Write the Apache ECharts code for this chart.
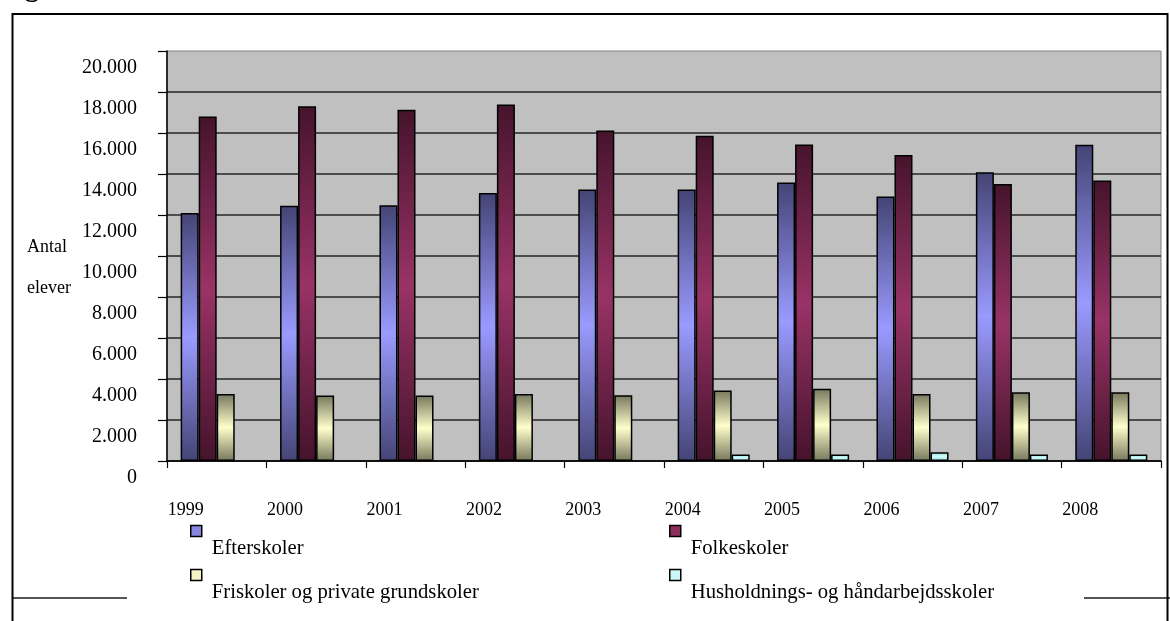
<!DOCTYPE html>
<html>
<head>
<meta charset="utf-8">
<script src="https://cdn.jsdelivr.net/npm/echarts@6/dist/echarts.min.js"></script>
<style>
  html, body { margin: 0; padding: 0; background: #ffffff; }
  #chart { width: 1170px; height: 621px; }
</style>
</head>
<body>
<div id="chart"></div>
<script>
// Antal elever pr. skoleform, 1999-2008
const years = ['1999', '2000', '2001', '2002', '2003', '2004', '2005', '2006', '2007', '2008'];
const efterskoler = [12100, 12450, 12480, 13070, 13240, 13240, 13590, 12900, 14090, 15430];
const folkeskoler = [16800, 17300, 17130, 17390, 16120, 15860, 15440, 14930, 13510, 13680];
const friskoler = [3270, 3190, 3190, 3270, 3210, 3440, 3530, 3270, 3350, 3350];
const husholdning = [null, null, null, null, null, 320, 320, 430, 320, 320];
const seriesNames = ['Efterskoler', 'Folkeskoler', 'Friskoler og private grundskoler', 'Husholdnings- og håndarbejdsskoler'];
const yTicks = [0, 2000, 4000, 6000, 8000, 10000, 12000, 14000, 16000, 18000, 20000];

const FONT = '"Liberation Serif", "DejaVu Serif", serif';

// vertical fill that is dark at both ends and light in the middle
function mirrored(dark, light) {
  return new echarts.graphic.LinearGradient(0, 0, 0, 1, [
    { offset: 0, color: dark },
    { offset: 0.5, color: light },
    { offset: 1, color: dark }
  ]);
}

const fills = [
  mirrored('#444475', '#9a9aff'),
  mirrored('#45132c', '#993366'),
  mirrored('#77775d', '#ffffcc'),
  mirrored('#9fd6d6', '#ccffff')
];
const swatches = ['#8787e0', '#8f2d5c', '#f4f4c4', '#c8f8f8'];
const values = [efterskoler, folkeskoler, friskoler, husholdning];

// each legend entry: swatch on one line, its name on the line below
const legendSpots = [
  { left: 190, top: 495 },
  { left: 669, top: 495 },
  { left: 190, top: 539 },
  { left: 669, top: 539 }
];

const chart = echarts.init(document.getElementById('chart'), null, { renderer: 'canvas' });

const option = {
  animation: false,
  backgroundColor: '#ffffff',
  textStyle: { fontFamily: FONT },
  grid: {
    left: 167, right: 9, top: 51, bottom: 160,
    show: true, backgroundColor: '#c0c0c0', borderColor: '#808080', borderWidth: 1
  },
  xAxis: {
    type: 'category',
    data: years,
    boundaryGap: true,
    axisLine: { show: true, lineStyle: { color: '#000', width: 1.5 } },
    axisTick: { show: true, length: 7, inside: false, alignWithLabel: false, lineStyle: { color: '#000', width: 1.2 } },
    axisLabel: {
      interval: 0, margin: 40, fontFamily: FONT, fontSize: 18, color: '#000',
      padding: [0, 62, 0, 0]
    },
    splitLine: { show: false }
  },
  yAxis: {
    type: 'value',
    min: yTicks[0], max: yTicks[yTicks.length - 1], interval: yTicks[1] - yTicks[0],
    axisLine: { show: true, lineStyle: { color: '#000', width: 1.5 } },
    axisTick: { show: true, length: 9, lineStyle: { color: '#000', width: 1.2 } },
    axisLabel: {
      margin: 30, fontFamily: FONT, fontSize: 20, color: '#000',
      verticalAlign: 'top', lineHeight: 34,
      formatter: v => String(v).replace(/\B(?=(\d{3})+(?!\d))/g, '.')
    },
    splitLine: { show: true, showMaxLine: false, lineStyle: { color: '#262626', width: 1.5 } }
  },
  legend: seriesNames.map((name, i) => ({
    data: [{ name: name, itemStyle: { color: swatches[i], borderColor: '#000', borderWidth: 1.5 } }],
    left: legendSpots[i].left,
    top: legendSpots[i].top,
    padding: 0,
    icon: 'rect',
    itemWidth: 11,
    itemHeight: 11,
    selectedMode: false,
    formatter: n => '\n' + n,
    textStyle: { fontFamily: FONT, fontSize: 20.7, color: '#000', lineHeight: 36, padding: [0, 0, 0, 5] }
  })),
  series: seriesNames.map((name, i) => ({
    name: name,
    type: 'bar',
    data: values[i],
    barGap: '0%',
    barCategoryGap: '27.5%',
    itemStyle: { color: fills[i], borderColor: '#000', borderWidth: 1.5 }
  })),
  graphic: [
    {
      type: 'text', left: 0, top: -25, silent: true,
      style: { text: 'Figur', font: 'bold 28px ' + FONT, fill: '#000' }
    },
    {
      type: 'rect', silent: true, z: 10,
      shape: { x: 12.5, y: 14, width: 1155, height: 700 },
      style: { fill: null, stroke: '#000', lineWidth: 2 }
    },
    {
      type: 'line', silent: true,
      shape: { x1: 12, y1: 598, x2: 127, y2: 598 },
      style: { stroke: '#555', lineWidth: 2 }
    },
    {
      type: 'line', silent: true,
      shape: { x1: 1084, y1: 598, x2: 1170, y2: 598 },
      style: { stroke: '#555', lineWidth: 2 }
    },
    {
      type: 'group', left: 27, top: 238, silent: true,
      children: [
        { type: 'text', x: 0, y: 0, style: { text: 'Antal', font: '18px ' + FONT, fill: '#000' } },
        { type: 'text', x: 0, y: 41, style: { text: 'elever', font: '18px ' + FONT, fill: '#000' } }
      ]
    }
  ]
};

chart.setOption(option);
</script>
</body>
</html>
